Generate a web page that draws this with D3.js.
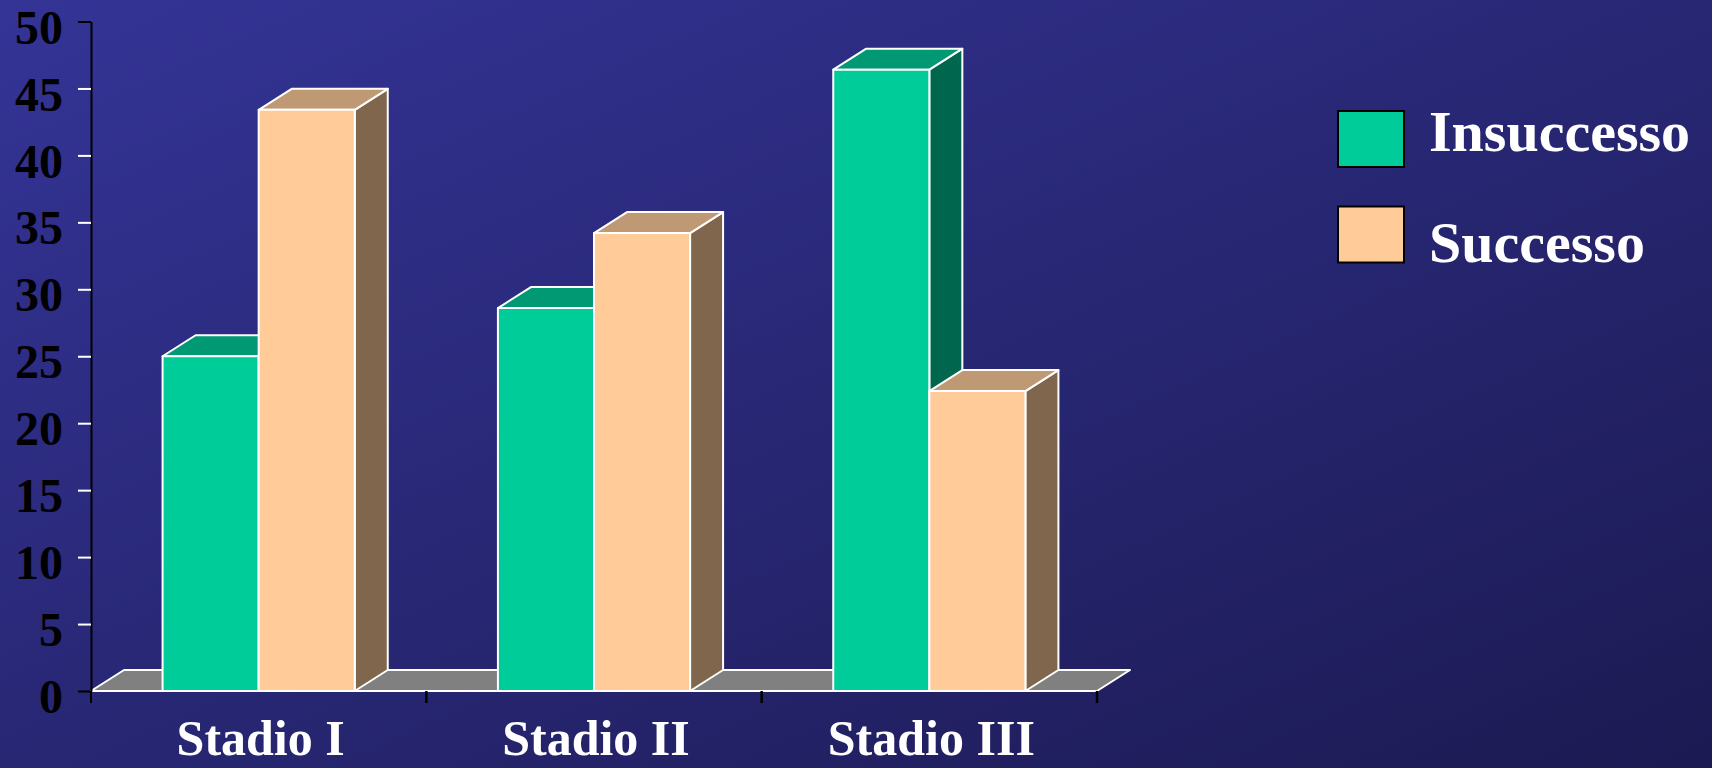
<!DOCTYPE html>
<html>
<head>
<meta charset="utf-8">
<script src="https://cdn.jsdelivr.net/npm/d3@7"></script>
<style>
  html, body { margin: 0; padding: 0; background: #2a2a7a; }
  svg { display: block; }
</style>
</head>
<body>
<svg id="chart" width="1712" height="768"></svg>
<script>
// ---- data ----
const categories = ["Stadio I", "Stadio II", "Stadio III"];
const seriesNames = ["Insuccesso", "Successo"];
const insuccesso = [25, 28.6, 46.4];
const successo = [43.4, 34.2, 22.4];
const yTicks = [0, 5, 10, 15, 20, 25, 30, 35, 40, 45, 50];
const seriesValues = [insuccesso, successo];
const seriesColors = ["#00CC99", "#FFCC99"];
const seriesTop = ["#009973", "#BF9973"];
const seriesSide = ["#00664D", "#7F664D"];

(function () {
const W = 1712, H = 768;
const svg = d3.select("#chart");

// background gradient
const defs = svg.append("defs");
const grad = defs.append("linearGradient").attr("id", "bg")
  .attr("x1", 0).attr("y1", 0).attr("x2", 1).attr("y2", 1);
grad.append("stop").attr("offset", "0%").attr("stop-color", "#343497");
grad.append("stop").attr("offset", "100%").attr("stop-color", "#1c1a52");
svg.append("rect").attr("width", W).attr("height", H).attr("fill", "url(#bg)");

// geometry
const plotLeft = 91, plotRight = 1097, plotBase = 691, plotTop = 21.5;
const dx = 33, dy = 21;
const y = d3.scaleLinear().domain([0, 50]).range([plotBase, plotTop]);
const x0 = d3.scaleBand().domain(categories).range([plotLeft, plotRight]).paddingInner(0).paddingOuter(0);
const x1 = d3.scaleBand().domain(seriesNames).range([0, x0.bandwidth()]).paddingInner(0).paddingOuter(0.745);

// floor
svg.append("path")
  .attr("d", `M${plotLeft},${plotBase} L${plotLeft + dx},${plotBase - dy} L${plotRight + dx},${plotBase - dy} L${plotRight},${plotBase} Z`)
  .attr("fill", "#808080").attr("stroke", "#ffffff").attr("stroke-width", 2).attr("stroke-linejoin", "round");

// bars (3D boxes)
const g = svg.append("g");
categories.forEach((c, ci) => {
  seriesNames.forEach((s, si) => {
    const v = seriesValues[si][ci];
    const xl = x0(c) + x1(s);
    const xr = xl + x1.bandwidth();
    const yt = y(v);
    const yb = y(0);
    const box = g.append("g").attr("stroke", "#ffffff").attr("stroke-width", 2).attr("stroke-linejoin", "round");
    box.append("path")
      .attr("d", `M${xr},${yb} L${xr + dx},${yb - dy} L${xr + dx},${yt - dy} L${xr},${yt} Z`)
      .attr("fill", seriesSide[si]);
    box.append("path")
      .attr("d", `M${xl},${yt} L${xl + dx},${yt - dy} L${xr + dx},${yt - dy} L${xr},${yt} Z`)
      .attr("fill", seriesTop[si]);
    box.append("rect")
      .attr("x", xl).attr("y", yt).attr("width", xr - xl).attr("height", yb - yt)
      .attr("fill", seriesColors[si]);
  });
});

// y axis
const yAxis = d3.axisLeft(y).tickValues(yTicks).tickSize(13).tickSizeOuter(0).tickPadding(15);
const ya = svg.append("g").attr("transform", `translate(${plotLeft},0)`).call(yAxis);
ya.select(".domain").attr("stroke", "#000000").attr("stroke-width", 2);
ya.selectAll(".tick line")
  .attr("stroke", d => (d === 0 || d === 50) ? "#000000" : "#ffffff")
  .attr("stroke-width", 2);
ya.selectAll(".tick text")
  .attr("fill", "#000000")
  .attr("font-family", "'Liberation Serif', 'Times New Roman', serif")
  .attr("font-weight", "bold")
  .attr("font-size", 48)
  .attr("dy", "0.45em");
svg.append("line").attr("x1", plotLeft).attr("x2", plotLeft).attr("y1", plotBase).attr("y2", plotBase + 12)
  .attr("stroke", "#000").attr("stroke-width", 2);

// x axis category boundary ticks
categories.forEach(c => {
  const xe = x0(c) + x0.bandwidth();
  svg.append("line").attr("x1", xe).attr("x2", xe).attr("y1", plotBase).attr("y2", plotBase + 12)
    .attr("stroke", "#000").attr("stroke-width", 2.5);
});
// x labels
svg.append("g").selectAll("text").data(categories).join("text")
  .attr("x", d => x0(d) + x0.bandwidth() / 2 + 2)
  .attr("y", 755)
  .attr("text-anchor", "middle")
  .attr("fill", "#ffffff")
  .attr("font-family", "'Liberation Serif', 'Times New Roman', serif")
  .attr("font-weight", "bold")
  .attr("font-size", 50)
  .text(d => d);

// legend
const legend = svg.append("g");
const boxY = [111, 206.5];
const textY = [151, 262];
seriesNames.forEach((s, i) => {
  legend.append("rect").attr("x", 1338).attr("y", boxY[i]).attr("width", 66).attr("height", 56)
    .attr("fill", seriesColors[i]).attr("stroke", "#000").attr("stroke-width", 2);
  legend.append("text").attr("x", 1429).attr("y", textY[i])
    .attr("fill", "#ffffff")
    .attr("font-family", "'Liberation Serif', 'Times New Roman', serif")
    .attr("font-weight", "bold")
    .attr("font-size", 58)
    .text(s);
});
})();
</script>
</body>
</html>
